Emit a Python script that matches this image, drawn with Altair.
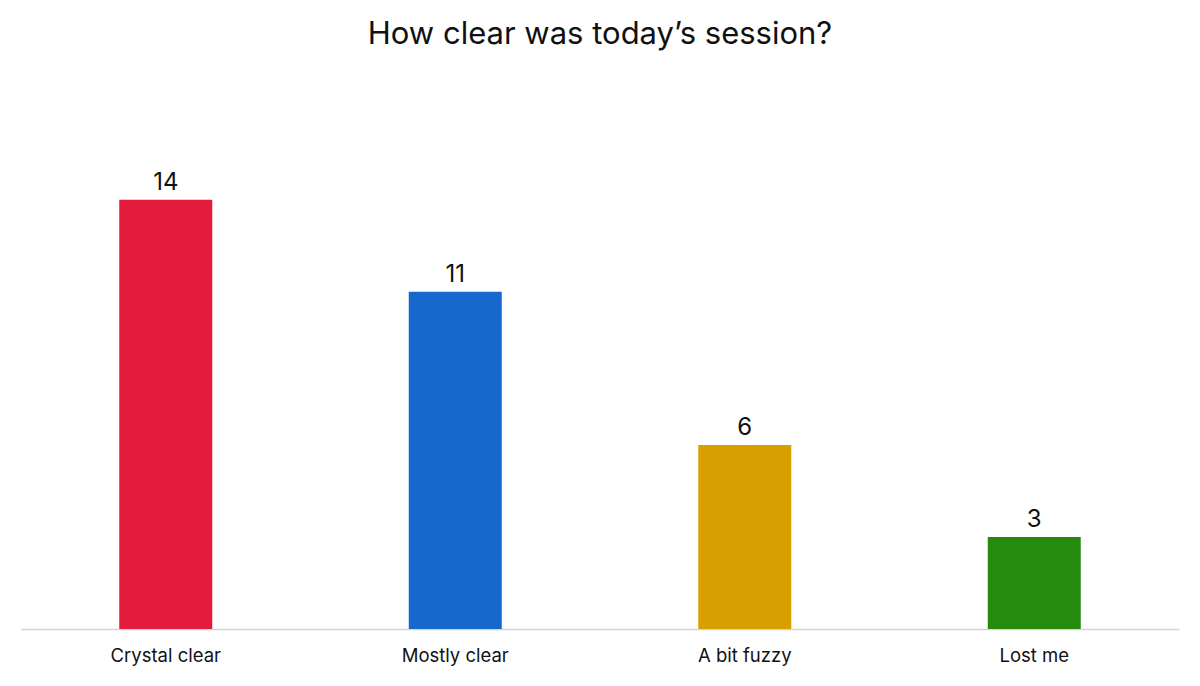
import altair as alt
import pandas as pd

categories = ["Crystal clear", "Mostly clear", "A bit fuzzy", "Lost me"]
counts = [14, 11, 6, 3]
colors = ["#E31C3D", "#1668CC", "#D99E00", "#258B0E"]

df = pd.DataFrame({"answer": categories, "count": counts})

FONT = "Inter"

base = alt.Chart(df).encode(
    x=alt.X("answer:N", sort=categories,
            scale=alt.Scale(paddingInner=0, paddingOuter=0),
            axis=alt.Axis(title=None, labelAngle=0, ticks=False, labelFontSize=18.5,
                          labelFont=FONT, labelColor="#111111", labelPadding=17,
                          domainColor="#d4d4d4", domainWidth=1.5)),
    y=alt.Y("count:Q", scale=alt.Scale(domain=[0, 15], nice=False),
            axis=None),
)

bars = base.mark_bar(size=93).encode(
    color=alt.Color("answer:N", sort=categories,
                    scale=alt.Scale(domain=categories, range=colors), legend=None)
)

labels = base.mark_text(baseline="bottom", dy=-5, fontSize=24, font=FONT, color="#111111").encode(
    text="count:Q"
)

chart = (bars + labels).properties(
    width=1158,
    height=460,
    title=alt.TitleParams("How clear was today’s session?", fontSize=31, font=FONT,
                          fontWeight="normal", color="#111111", offset=118, anchor="middle"),
    autosize=alt.AutoSizeParams(type="none"),
    padding={"left": 13, "top": 161, "right": 13, "bottom": 40},
).configure_view(stroke=None)

chart.save("out.html", embed_options={"renderer": "svg", "actions": False})
